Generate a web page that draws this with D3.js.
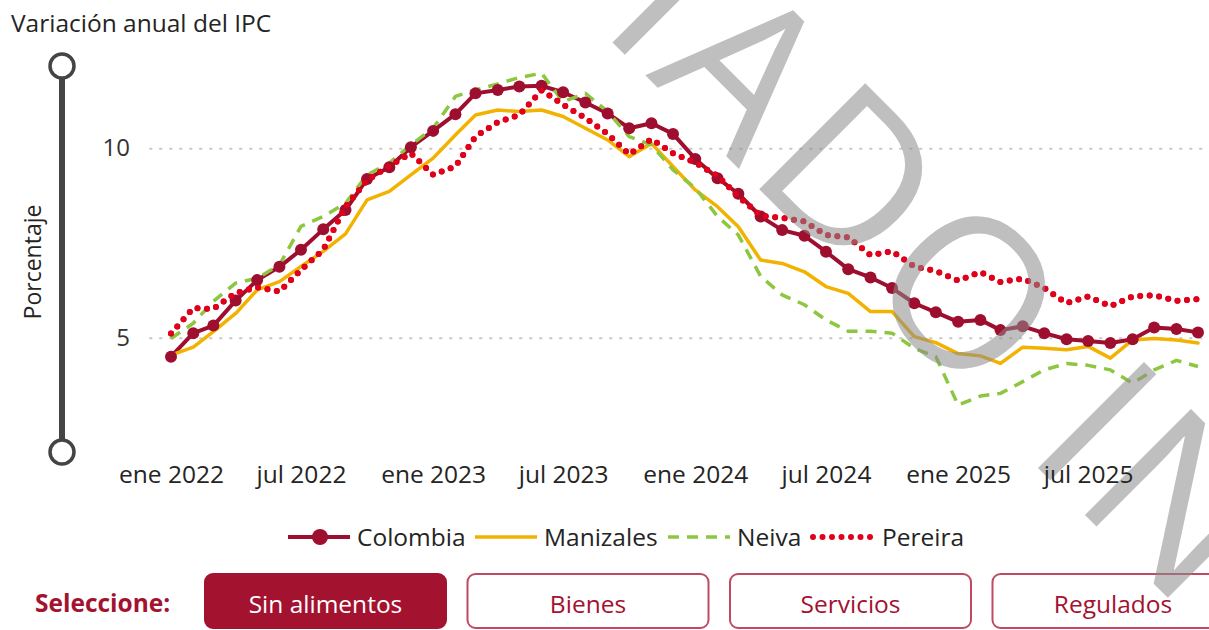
<!DOCTYPE html>
<html>
<head>
<meta charset="utf-8">
<script src="https://cdn.jsdelivr.net/npm/d3@7"></script>
<style>
  body { margin: 0; background: #fff; }
  svg { display: block; font-family: "Open Sans", sans-serif; }
</style>
</head>
<body>
<div id="chart"></div>
<script>
// meses: ene 2022 .. dic 2025
var meses = d3.timeMonth.range(new Date(2022, 0, 1), new Date(2026, 0, 1));
var tickMeses = ["2022-01", "2022-07", "2023-01", "2023-07", "2024-01", "2024-07", "2025-01", "2025-07"];
var yTicks = [5, 10];

var colombia = [4.50, 5.12, 5.32, 5.98, 6.52, 6.87, 7.32, 7.86, 8.37, 9.19, 9.50, 10.03,
  10.46, 10.90, 11.45, 11.54, 11.63, 11.65, 11.48, 11.21, 10.92, 10.53, 10.66, 10.38,
  9.72, 9.21, 8.80, 8.20, 7.84, 7.69, 7.27, 6.81, 6.59, 6.31, 5.91, 5.67,
  5.42, 5.47, 5.20, 5.30, 5.12, 4.96, 4.91, 4.86, 4.96, 5.27, 5.23, 5.14];
var manizales = [4.54, 4.75, 5.16, 5.64, 6.26, 6.48, 6.88, 7.28, 7.74, 8.64, 8.86, 9.30,
  9.74, 10.35, 10.88, 11.01, 10.97, 11.01, 10.84, 10.53, 10.22, 9.78, 10.13, 9.52,
  8.90, 8.46, 7.93, 7.05, 6.96, 6.74, 6.35, 6.17, 5.69, 5.69, 5.03, 4.87,
  4.58, 4.52, 4.32, 4.75, 4.72, 4.68, 4.77, 4.46, 4.94, 4.98, 4.94, 4.86];
var neiva = [4.98, 5.38, 5.96, 6.44, 6.57, 6.92, 7.94, 8.20, 8.55, 9.30, 9.61, 10.09,
  10.53, 11.37, 11.54, 11.70, 11.87, 11.98, 11.23, 11.45, 10.97, 10.31, 10.09, 9.43,
  8.95, 8.20, 7.71, 6.62, 6.13, 5.87, 5.47, 5.17, 5.17, 5.12, 4.72, 4.50,
  3.22, 3.46, 3.53, 3.84, 4.15, 4.32, 4.27, 4.15, 3.80, 4.15, 4.40, 4.24];
var pereira = [5.11, 5.78, 5.76, 6.18, 6.33, 6.22, 6.79, 7.32, 8.46, 9.16, 9.53, 9.87,
  9.30, 9.52, 10.31, 10.69, 10.88, 11.53, 11.15, 10.80, 10.38, 9.84, 10.24, 9.87,
  9.62, 9.27, 8.73, 8.22, 8.16, 8.07, 7.71, 7.65, 7.18, 7.28, 6.88, 6.76,
  6.51, 6.73, 6.47, 6.56, 6.31, 5.91, 6.09, 5.83, 6.09, 6.12, 5.97, 6.02];

var seriesNames = ["Colombia", "Manizales", "Neiva", "Pereira"];
var botones = ["Sin alimentos", "Bienes", "Servicios", "Regulados"];

var w = 1209, h = 630;
var svg = d3.select("#chart").append("svg").attr("width", w).attr("height", h);

var x = d3.scaleTime().domain([meses[0], meses[meses.length - 1]]).range([171, 1198]);
var y = d3.scaleLinear().domain([5, 10]).range([337.7, 148.3]);

// titulo
svg.append("text").attr("x", 11).attr("y", 32)
  .attr("font-size", 24.5).attr("fill", "#252423")
  .text("Variación anual del IPC");

// slider a la izquierda
svg.append("line").attr("x1", 62).attr("x2", 62).attr("y1", 66).attr("y2", 452)
  .style("stroke", "#444").style("stroke-width", 6);
svg.selectAll("circle.knob").data([66, 452]).enter().append("circle")
  .attr("class", "knob").attr("cx", 62).attr("cy", function(d) { return d; })
  .attr("r", 12).attr("fill", "#fff").style("stroke", "#444").style("stroke-width", 3.5);

svg.append("text")
  .attr("transform", "translate(41,262) rotate(-90)")
  .attr("text-anchor", "middle").attr("font-size", 23).attr("fill", "#252423")
  .text("Porcentaje");

// grid + eje y
var yAxis = svg.append("g")
  .call(d3.axisLeft(y).tickValues(yTicks).tickFormat(d3.format("d")).tickSize(-(w - 150)).tickPadding(20))
  .attr("transform", "translate(150,0)");
yAxis.select(".domain").remove();
yAxis.selectAll(".tick line").style("stroke", "#c8c8c8").style("stroke-width", 2)
  .style("stroke-dasharray", "1.5,8.5").attr("stroke-linecap", "round");
yAxis.selectAll(".tick text").attr("font-size", 24).attr("fill", "#333")
  .attr("font-family", "Open Sans, sans-serif");

// lineas
var line = d3.line().x(function(d, i) { return x(meses[i]); }).y(function(d) { return y(d); });

var estilos = [
  {data: colombia, color: "#9e0e2f", width: 4, dash: null, cap: "round"},
  {data: manizales, color: "#f2b200", width: 3.5, dash: null, cap: "round"},
  {data: neiva, color: "#8dc63f", width: 3.5, dash: "11,8", cap: "butt"},
  {data: pereira, color: "#e0001b", width: 6, dash: "0,9.5", cap: "round"}
];

svg.selectAll("path.serie").data(estilos).enter().append("path")
  .attr("class", "serie")
  .attr("d", function(d) { return line(d.data); })
  .attr("fill", "none")
  .style("stroke", function(d) { return d.color; })
  .style("stroke-width", function(d) { return d.width; })
  .style("stroke-dasharray", function(d) { return d.dash; })
  .style("stroke-linecap", function(d) { return d.cap; })
  .style("stroke-linejoin", "round");

svg.selectAll("circle.punto").data(colombia).enter().append("circle")
  .attr("class", "punto")
  .attr("cx", function(d, i) { return x(meses[i]); })
  .attr("cy", function(d) { return y(d); })
  .attr("r", 6).attr("fill", "#9e0e2f");

// dibujar pereira otra vez encima de Colombia
svg.append("path").attr("d", line(pereira)).attr("fill", "none")
  .style("stroke", "#e0001b").style("stroke-width", 6).style("stroke-dasharray", "0,9.5")
  .style("stroke-linecap", "round");

// leyenda
var leyX = [288, 475, 668, 813];
var ley = svg.append("g").attr("transform", "translate(0,537)");
ley.selectAll("line.ley").data(estilos).enter().append("line")
  .attr("class", "ley")
  .attr("x1", function(d, i) { return leyX[i]; })
  .attr("x2", function(d, i) { return leyX[i] + 62; })
  .style("stroke", function(d) { return d.color; })
  .style("stroke-width", function(d) { return d.width; })
  .style("stroke-dasharray", function(d) { return d.dash; })
  .style("stroke-linecap", function(d, i) { return i == 3 ? "round" : "butt"; });
ley.append("circle").attr("cx", leyX[0] + 32).attr("cy", 0).attr("r", 8).attr("fill", "#9e0e2f");
ley.selectAll("text").data(seriesNames).enter().append("text")
  .attr("x", function(d, i) { return leyX[i] + 69; })
  .attr("y", 9).attr("font-size", 24.5).attr("fill", "#252423")
  .text(function(d) { return d; });

// botones
svg.append("text").attr("x", 35).attr("y", 612).attr("font-size", 24.5)
  .attr("font-weight", "bold").attr("fill", "#a3122f").text("Seleccione:");
var bx = d3.scaleBand().domain(botones).range([205, 1233.5]).paddingInner(0.0819);
var bt = svg.selectAll("g.boton").data(botones).enter().append("g")
  .attr("class", "boton")
  .attr("transform", function(d) { return "translate(" + bx(d) + ",574)"; });
bt.append("rect").attr("width", bx.bandwidth()).attr("height", 54).attr("rx", 8)
  .attr("fill", function(d, i) { return i == 0 ? "#a3122f" : "#fff"; })
  .style("stroke", function(d, i) { return i == 0 ? "#a3122f" : "#c04a62"; })
  .style("stroke-width", 2);
bt.append("text").attr("x", bx.bandwidth() / 2).attr("y", 39)
  .attr("text-anchor", "middle").attr("font-size", 24.5)
  .attr("fill", function(d, i) { return i == 0 ? "#fff" : "#a3122f"; })
  .text(function(d) { return d; });

// marca de agua (encima de las lineas, debajo de las etiquetas del eje x)
svg.append("text")
  .attr("transform", "translate(598,28) rotate(45)")
  .attr("font-size", 210).attr("letter-spacing", 8)
  .attr("fill", "#8c8c8c").attr("opacity", 0.55)
  .text("IADO IN");

// eje x
var parseMes = d3.timeParse("%Y-%m");
var nombreMes = function(d) { return (d.getMonth() == 0 ? "ene " : "jul ") + d.getFullYear(); };
var xAxis = svg.append("g").attr("transform", "translate(0,458)")
  .call(d3.axisBottom(x).tickValues(tickMeses.map(parseMes)).tickFormat(nombreMes).tickSize(0).tickPadding(8));
xAxis.select(".domain").remove();
xAxis.selectAll(".tick text").attr("font-size", 24.5).attr("fill", "#252423")
  .attr("font-family", "Open Sans, sans-serif");
</script>
</body>
</html>
